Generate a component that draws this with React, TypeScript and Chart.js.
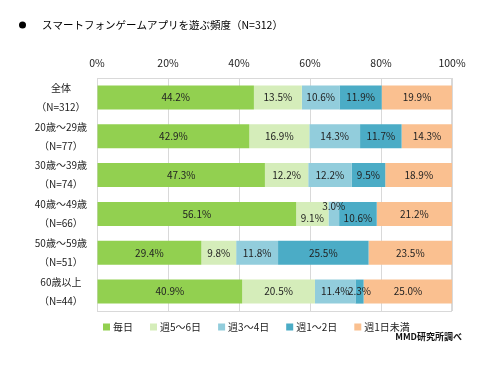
import React, { useEffect, useRef } from "react";
import { Chart, registerables } from "chart.js";
Chart.register(...registerables);

const categories: string[][] = [
  ["全体", "（N=312）"],
  ["20歳〜29歳", "（N=77）"],
  ["30歳〜39歳", "（N=74）"],
  ["40歳〜49歳", "（N=66）"],
  ["50歳〜59歳", "（N=51）"],
  ["60歳以上", "（N=44）"],
];
const seriesNames = ["毎日", "週5〜6日", "週3〜4日", "週1〜2日", "週1日未満"];
const daily = [44.2, 42.9, 47.3, 56.1, 29.4, 40.9];
const week56 = [13.5, 16.9, 12.2, 9.1, 9.8, 20.5];
const week34 = [10.6, 14.3, 12.2, 3.0, 11.8, 11.4];
const week12 = [11.9, 11.7, 9.5, 10.6, 25.5, 2.3];
const weekLess = [19.9, 14.3, 18.9, 21.2, 23.5, 25.0];
const xTicks = [0, 20, 40, 60, 80, 100];
const title = "スマートフォンゲームアプリを遊ぶ頻度（N=312）";
const source = "MMD研究所調べ";

const colors = ["#92D050", "#D5EDBA", "#92CDDC", "#4BACC6", "#FAC090"];
const FONT = "'Noto Sans CJK JP', 'Noto Sans', sans-serif";

export default function App() {
  const ref = useRef<HTMLCanvasElement | null>(null);
  useEffect(() => {
    if (!ref.current) return;
    const values = [daily, week56, week34, week12, weekLess];
    const labelPlugin = {
      id: "labels",
      beforeDatasetsDraw(chart: any) {
        const { ctx, chartArea: a } = chart;
        ctx.save();
        ctx.strokeStyle = "#d9d9d9";
        ctx.lineWidth = 1;
        ctx.strokeRect(a.left + 0.5, a.top + 0.5, a.right - a.left - 1, a.bottom - a.top);
        ctx.restore();
      },
      afterDatasetsDraw(chart: any) {
        const { ctx } = chart;
        ctx.save();
        ctx.font = `10px ${FONT}`;
        ctx.fillStyle = "#222";
        ctx.textAlign = "center";
        ctx.textBaseline = "middle";
        chart.data.datasets.forEach((ds: any, di: number) => {
          const meta = chart.getDatasetMeta(di);
          meta.data.forEach((bar: any, i: number) => {
            const v = ds.data[i];
            let dy = 0;
            if (i === 3) {
              if (di === 2) dy = -8;
              else if (di === 1 || di === 3) dy = 4;
            }
            const x = (bar.x + bar.base) / 2;
            ctx.fillText(v.toFixed(1) + "%", x, bar.y + dy);
          });
        });
        ctx.restore();
      },
      afterDraw(chart: any) {
        const { ctx } = chart;
        ctx.save();
        // title
        ctx.fillStyle = "#000";
        ctx.beginPath();
        ctx.arc(22.5, 25, 3.5, 0, Math.PI * 2);
        ctx.fill();
        ctx.textBaseline = "middle";
        ctx.font = `10.5px ${FONT}`;
        ctx.fillText(title, 42, 25);
        // legend
        ctx.font = `10px ${FONT}`;
        let x = 103;
        const ly = 327;
        chart.data.datasets.forEach((ds: any) => {
          ctx.fillStyle = ds.backgroundColor;
          ctx.fillRect(x, ly - 3.5, 7, 7);
          ctx.fillStyle = "#222";
          ctx.textAlign = "left";
          ctx.fillText(ds.label, x + 10, ly);
          x += 10 + ctx.measureText(ds.label).width + 17;
        });
        // source
        ctx.font = `bold 9px ${FONT}`;
        ctx.textAlign = "right";
        ctx.fillStyle = "#111";
        ctx.fillText(source, 462, 337);
        ctx.restore();
      },
    };
    const chart = new Chart(ref.current, {
      type: "bar",
      data: {
        labels: categories,
        datasets: seriesNames.map((name, k) => ({
          label: name,
          data: values[k],
          backgroundColor: colors[k],
          borderWidth: 0,
          categoryPercentage: 1,
          barPercentage: 0.62,
          yAxisID: "y",
        })),
      },
      options: {
        indexAxis: "y",
        responsive: false,
        animation: false,
        layout: { padding: { top: 48, bottom: 59, left: 0, right: 0 } },
        plugins: {
          legend: { display: false },
          tooltip: { enabled: false },
        },
        scales: {
          x: {
            position: "top",
            stacked: true,
            min: 0,
            max: 100,
            afterBuildTicks: (s: any) => {
              s.ticks = xTicks.map((v) => ({ value: v }));
            },
            afterFit: (s: any) => {
              s.height = 30;
            },
            ticks: {
              padding: 9,
              color: "#222",
              font: { size: 10.5, family: FONT },
              callback: (v: any) => v + "%",
            },
            grid: { color: "#d9d9d9", drawTicks: false },
            border: { color: "#d9d9d9" },
          },
          y: {
            stacked: true,
            position: "left",
            afterFit: (s: any) => {
              s.width = 97;
            },
            ticks: {
              autoSkip: false,
              padding: 2,
              crossAlign: "center",
              color: "#222",
              font: { size: 10, family: FONT, lineHeight: 1.9 },
            },
            grid: { display: false },
            border: { color: "#d9d9d9" },
          },
          yr: {
            type: "category",
            position: "right",
            afterFit: (s: any) => {
              s.width = 48;
            },
            ticks: { display: false },
            grid: { display: false },
            border: { display: false },
          },
        },
      },
      plugins: [labelPlugin],
    } as any);
    return () => chart.destroy();
  }, []);
  return (
    <div style={{ position: "absolute", left: 0, top: 0, width: 500, height: 370, background: "#fff" }}>
      <canvas ref={ref} width={500} height={370} />
    </div>
  );
}
